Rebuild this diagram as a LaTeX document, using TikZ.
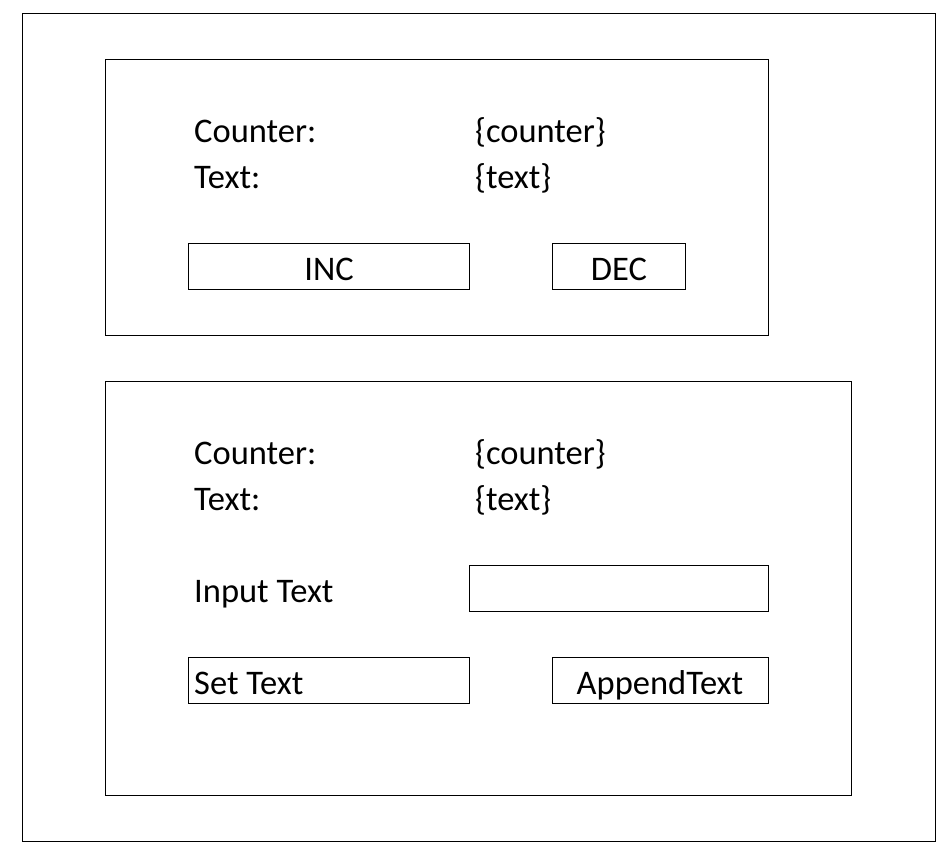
\documentclass[tikz,border=0pt]{standalone}
\usepackage{fontspec}
\setmainfont{Carlito}
\begin{document}
\begin{tikzpicture}[x=1pt,y=-1pt,
  box/.style={draw=black,line width=1.1pt},
  lbl/.style={anchor=base west,inner sep=0pt,font=\fontsize{34.5}{40}\selectfont},
  ctr/.style={anchor=base,inner sep=0pt,font=\fontsize{34.5}{40}\selectfont}]
\useasboundingbox (0,0) rectangle (952,851);
\fill[white] (0,0) rectangle (952,851);
% outer frame
\node[box,inner sep=0pt,minimum width=913pt,minimum height=828pt,anchor=north west] (outer) at (22,13) {};
% panel 1
\node[box,inner sep=0pt,minimum width=663pt,minimum height=276pt,anchor=north west] (p1) at (105,59) {};
\node[lbl] (c1) at (194,142) {Counter:};
\node[lbl] (cv1) at (475,142) {\{counter\}};
\node[lbl] (t1) at (194,188) {Text:};
\node[lbl] (tv1) at (475,188) {\{text\}};
\node[box,inner sep=0pt,minimum width=281pt,minimum height=46pt,anchor=north west] (inc) at (188,243) {};
\node[ctr] (inct) at (329,280) {INC};
\node[box,inner sep=0pt,minimum width=133pt,minimum height=46pt,anchor=north west] (dec) at (552,243) {};
\node[ctr] (dect) at (619,280) {DEC};
% panel 2
\node[box,inner sep=0pt,minimum width=746pt,minimum height=414pt,anchor=north west] (p2) at (105,381) {};
\node[lbl] (c2) at (194,464) {Counter:};
\node[lbl] (cv2) at (475,464) {\{counter\}};
\node[lbl] (t2) at (194,510) {Text:};
\node[lbl] (tv2) at (475,510) {\{text\}};
\node[lbl] (it) at (194,602) {Input Text};
\node[box,inner sep=0pt,minimum width=299pt,minimum height=46pt,anchor=north west] (inp) at (469,565) {};
\node[box,inner sep=0pt,minimum width=281pt,minimum height=46pt,anchor=north west] (set) at (188,657) {};
\node[lbl] (sett) at (194,694) {Set Text};
\node[box,inner sep=0pt,minimum width=216pt,minimum height=46pt,anchor=north west] (app) at (552,657) {};
\node[ctr] (appt) at (660,694) {AppendText};
\end{tikzpicture}
\end{document}
